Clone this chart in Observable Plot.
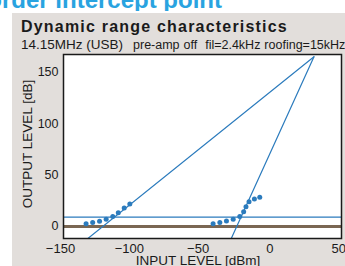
<!DOCTYPE html>
<html>
<head>
<meta charset="utf-8">
<script src="https://cdn.jsdelivr.net/npm/d3@7"></script>
<script src="https://cdn.jsdelivr.net/npm/@observablehq/plot@0.6"></script>
<style>
  html, body { margin: 0; padding: 0; background: #ffffff; }
  body { width: 345px; height: 266px; overflow: hidden; position: relative; font-family: "Liberation Sans", Arial, Helvetica, sans-serif; color: #1a1a1a; }
  #header { position: absolute; left: 0; top: 0; width: 345px; height: 11px; overflow: hidden; }
  #header span { position: absolute; right: 123px; top: -12px; font-size: 24px; line-height: 24px; font-weight: bold; color: #29a3e0; white-space: nowrap; }
  #panel { position: absolute; left: 12px; top: 13px; right: 0; bottom: 0; background: #e2dedb; }
  #title { position: absolute; left: 21px; top: 19px; font-size: 16px; line-height: 16px; font-weight: bold; letter-spacing: 1.2px; white-space: nowrap; }
  #subtitle { position: absolute; left: 21px; top: 37px; line-height: 14px; white-space: nowrap; }
  #subtitle .a { font-size: 13.5px; }
  #subtitle .b { font-size: 12.5px; margin-left: 10px; word-spacing: 0.5px; }
  #chart { position: absolute; left: 0; top: 50px; }
  #ylab { position: absolute; left: 27.5px; top: 144px; transform: translate(-50%, -50%) rotate(-90deg); font-size: 13.5px; line-height: 14px; white-space: nowrap; }
  #xlab { position: absolute; left: 198px; top: 254px; transform: translateX(-50%); font-size: 13.5px; line-height: 14px; white-space: nowrap; }
</style>
</head>
<body>
<div id="header"><span>Third-order intercept point</span></div>
<div id="panel"></div>
<div id="title">Dynamic range characteristics</div>
<div id="subtitle"><span class="a">14.15MHz (USB)</span><span class="b">pre-amp off&nbsp; fil=2.4kHz roofing=15kHz</span></div>
<div id="chart"></div>
<div id="ylab"></div>
<div id="xlab"></div>
<script>
// Measured points (input dBm, output dB)
const fundDotsX = [-133.6, -128.8, -123.8, -119, -114.2, -110.2, -105.9, -101.8];
const fundDotsY = [2.6, 3.9, 5.1, 7.0, 9.7, 13.3, 17.9, 21.8];
const im3DotsX = [-41.3, -36.4, -31.6, -26.7, -21.9, -19.1, -17.4, -15.2, -11.3, -7.4];
const im3DotsY = [2.6, 3.9, 5.3, 7.0, 9.8, 14.3, 19.2, 24.0, 26.8, 28.4];
// Extrapolated lines meeting at the intercept point
const fundLineX = [-132.3, 32];
const fundLineY = [-11.7, 165];
const im3LineX = [-28.1, 32];
const im3LineY = [-11.7, 165];
// Reference levels
const noiseLevel = [0];
const mdsLevel = [9];
// Tick labels
const xTicksNeg = [-150, -100, -50];
const xTicksPos = [0, 50];
const yTicks = [0, 50, 100, 150];
const xLabel = "INPUT LEVEL [dBm]";
const yLabel = "OUTPUT LEVEL [dB]";

const zip = (xs, ys) => xs.map((x, i) => ({x, y: ys[i]}));
const fundDots = zip(fundDotsX, fundDotsY);
const im3Dots = zip(im3DotsX, im3DotsY);
const fundLine = zip(fundLineX, fundLineY);
const im3Line = zip(im3LineX, im3LineY);

const blue = "#2b7bbd";
const font = "'Liberation Sans', Arial, Helvetica, sans-serif";

const chart = Plot.plot({
  width: 345,
  height: 216,
  marginLeft: 63,
  marginRight: 4,
  marginTop: 4,
  marginBottom: 28,
  style: {fontFamily: font, fontSize: "12.5px", background: "transparent", color: "#1a1a1a", overflow: "visible"},
  x: {domain: [-150, 52]},
  y: {domain: [-11.7, 167.2]},
  marks: [
    Plot.frame({fill: "white", stroke: "none"}),
    Plot.ruleY(noiseLevel, {stroke: "#7a6753", strokeWidth: 3}),
    Plot.ruleY(mdsLevel, {stroke: blue, strokeWidth: 1.2}),
    Plot.line(fundLine, {x: "x", y: "y", stroke: blue, strokeWidth: 1.2, clip: true}),
    Plot.line(im3Line, {x: "x", y: "y", stroke: blue, strokeWidth: 1.2, clip: true}),
    Plot.dot(fundDots, {x: "x", y: "y", r: 2.5, fill: blue, stroke: "none"}),
    Plot.dot(im3Dots, {x: "x", y: "y", r: 2.5, fill: blue, stroke: "none"}),
    Plot.frame({stroke: "#1a1a1a", strokeWidth: 1.5}),
    Plot.axisX({ticks: xTicksNeg, tickSize: 0, tickPadding: 5, dx: -3, fontSize: 13, label: null}),
    Plot.axisX({ticks: xTicksPos, tickSize: 0, tickPadding: 5, fontSize: 13, label: null}),
    Plot.axisY({ticks: yTicks, tickSize: 0, tickPadding: 5, fontSize: 12.5, label: null})
  ]
});
document.getElementById("chart").appendChild(chart);
document.getElementById("xlab").textContent = xLabel;
document.getElementById("ylab").textContent = yLabel;
</script>
</body>
</html>
